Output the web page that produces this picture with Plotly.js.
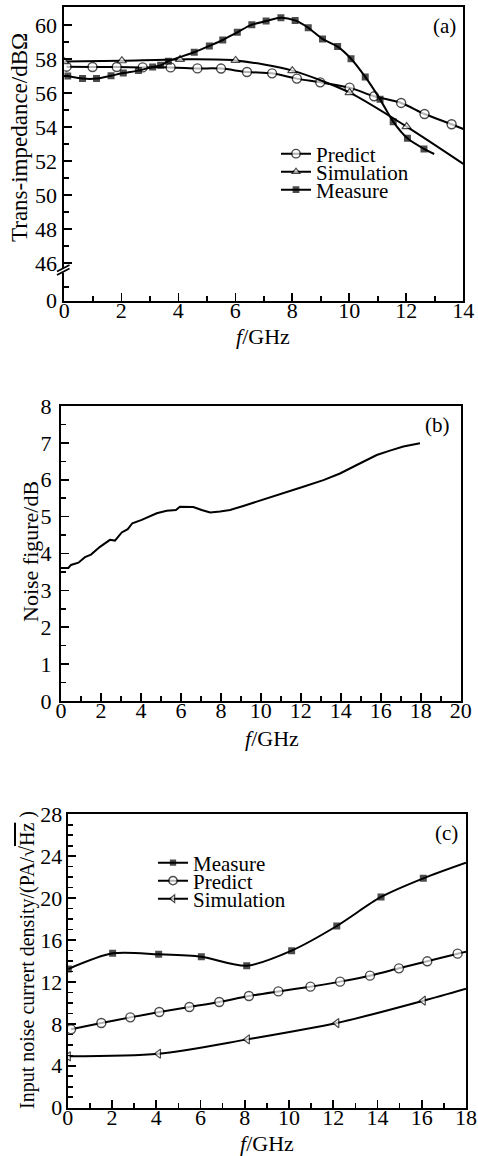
<!DOCTYPE html>
<html><head><meta charset="utf-8">
<script src="https://cdn.plot.ly/plotly-3.0.1.min.js"></script>
<style>html,body{margin:0;padding:0;background:#fff;}#chart{width:478px;height:1156px;}</style>
</head><body><div id="chart"></div>
<script>
// ---------- data: panel (a) trans-impedance ----------
const aPredictF = [0.08, 0.99, 1.84, 2.75, 3.73, 4.67, 5.5, 6.41, 7.29, 8.16, 8.98, 10.01, 10.87, 11.82, 12.64, 13.59, 14.0];
const aPredictV = [57.55, 57.53, 57.53, 57.51, 57.51, 57.45, 57.44, 57.24, 57.16, 56.85, 56.63, 56.32, 55.81, 55.42, 54.77, 54.17, 53.89];
const aSimF = [0, 2.02, 4.06, 6.01, 8.0, 10.01, 12.01, 14.0];
const aSimV = [57.85, 57.9, 57.98, 57.92, 57.32, 56.03, 54.03, 51.84];
const aMeasF = [0.12, 0.64, 1.13, 1.64, 2.07, 2.6, 3.1, 3.38, 3.65, 4.56, 5.09, 5.56, 6.07, 6.58, 7.08, 7.6, 8.1, 8.56, 9.06, 9.59, 10.06, 10.56, 11.08, 11.54, 12.04, 12.62, 12.98];
const aMeasV = [57.0, 56.85, 56.85, 57.02, 57.18, 57.32, 57.53, 57.63, 57.87, 58.4, 58.77, 59.12, 59.57, 60.02, 60.23, 60.43, 60.27, 59.84, 59.18, 58.73, 58.02, 56.95, 55.63, 54.32, 53.34, 52.72, 52.42];
const aYTickText = ['0', '46', '48', '50', '52', '54', '56', '58', '60'];
const aYTickVals = [46, 48, 50, 52, 54, 56, 58, 60];

// ---------- data: panel (b) noise figure ----------
const bF = [0, 0.37, 0.5, 0.87, 1.2, 1.5, 1.95, 2.29, 2.45, 2.7, 3.04, 3.34, 3.57, 4.04, 4.79, 5.29, 5.75, 5.95, 6.62, 7.04, 7.46, 7.96, 8.46, 9.12, 10.12, 11.12, 12.12, 13.13, 13.96, 14.8, 15.3, 15.8, 16.46, 17.13, 17.96];
const bV = [3.61, 3.61, 3.69, 3.75, 3.9, 3.97, 4.18, 4.31, 4.37, 4.35, 4.57, 4.66, 4.82, 4.91, 5.09, 5.16, 5.18, 5.27, 5.26, 5.18, 5.11, 5.14, 5.18, 5.29, 5.47, 5.63, 5.81, 5.99, 6.17, 6.4, 6.54, 6.67, 6.79, 6.9, 6.99];

// ---------- data: panel (c) input noise current density ----------
const cMeasF = [0.03, 2.03, 4.11, 6.04, 8.09, 10.12, 12.16, 14.16, 16.07, 18.0];
const cMeasV = [13.24, 14.73, 14.64, 14.41, 13.55, 14.99, 17.34, 20.11, 21.89, 23.38];
const cPredF = [0.15, 1.52, 2.83, 4.14, 5.5, 6.85, 8.19, 9.52, 10.97, 12.31, 13.66, 14.97, 16.25, 17.62, 18.0];
const cPredV = [7.48, 8.08, 8.62, 9.13, 9.61, 10.09, 10.66, 11.1, 11.55, 12.03, 12.6, 13.3, 13.97, 14.7, 14.89];
const cSimF = [0.03, 4.1, 8.12, 12.16, 16.07, 18.0];
const cSimV = [4.9, 5.15, 6.52, 8.08, 10.21, 11.36];

// ---------- layout helpers ----------
const W = 478, H = 1156;
const FONT = 'Liberation Serif, Times New Roman, serif';
const px = v => v / W;
const py = v => 1 - v / H;
const BREAK0 = 43.8; // axis position representing 0 on the broken axis

// last point of each series carries the line only
const sizes = (arr, s) => arr.map((_, i) => (i === arr.length - 1 ? 0 : s));

const lineStyle = {color: '#000', width: 2, shape: 'spline', smoothing: 0.8};
function sq(n) { return {color: '#000', size: sizes(n, 7), symbol: 'square', line: {width: 0}}; }
function circ(n) { return {color: '#fff', size: sizes(n, 9), symbol: 'circle', line: {color: '#000', width: 1.4}}; }
function tri(n, sym) { return {color: '#fff', size: sizes(n, 8), symbol: sym, line: {color: '#000', width: 1.2}}; }

const traces = [
  {x: aPredictF, y: aPredictV, xaxis: 'x', yaxis: 'y', mode: 'lines+markers', name: 'Predict', line: lineStyle, marker: circ(aPredictF), legend: 'legend'},
  {x: aSimF, y: aSimV, xaxis: 'x', yaxis: 'y', mode: 'lines+markers', name: 'Simulation', line: lineStyle, marker: tri(aSimF, 'triangle-up'), legend: 'legend2'},
  {x: aMeasF, y: aMeasV, xaxis: 'x', yaxis: 'y', mode: 'lines+markers', name: 'Measure', line: lineStyle, marker: sq(aMeasF), legend: 'legend3'},
  {x: bF, y: bV, xaxis: 'x2', yaxis: 'y2', mode: 'lines', name: 'NF', line: {color: '#000', width: 2}, showlegend: false},
  {x: cMeasF, y: cMeasV, xaxis: 'x3', yaxis: 'y3', mode: 'lines+markers', name: 'Measure', line: lineStyle, marker: sq(cMeasF), legend: 'legend4'},
  {x: cPredF, y: cPredV, xaxis: 'x3', yaxis: 'y3', mode: 'lines+markers', name: 'Predict', line: lineStyle, marker: circ(cPredF), legend: 'legend5'},
  {x: cSimF, y: cSimV, xaxis: 'x3', yaxis: 'y3', mode: 'lines+markers', name: 'Simulation', line: lineStyle, marker: tri(cSimF, 'triangle-left'), legend: 'legend6'}
];

const tickFont = {family: FONT, size: 22, color: '#000'};
function axis(extra) {
  return Object.assign({
    showline: true, linecolor: '#000', linewidth: 2, mirror: true,
    ticks: 'inside', ticklen: 8, tickwidth: 1.6, tickcolor: '#000',
    showgrid: false, zeroline: false, tickfont: tickFont, fixedrange: true,
    ticklabelstandoff: 1
  }, extra);
}
function minor(extra) {
  return Object.assign({ticks: 'inside', ticklen: 5, tickwidth: 1.6, tickcolor: '#000', showgrid: false}, extra);
}
const XSTAND = -11;

function legendAt(x, y) {
  return {x: px(x), y: py(y), xanchor: 'left', yanchor: 'middle', bgcolor: 'rgba(0,0,0,0)',
    borderwidth: 0, font: {family: FONT, size: 21, color: '#000'}, itemwidth: 30, tracegroupgap: 0};
}

const annFont = {family: FONT, size: 22, color: '#000'};
function ann(text, x, y, extra) {
  return Object.assign({text: text, xref: 'paper', yref: 'paper', x: px(x), y: py(y),
    xanchor: 'center', yanchor: 'middle', showarrow: false, font: annFont}, extra || {});
}

const layout = {
  width: W, height: H, margin: {l: 0, r: 0, t: 0, b: 0},
  paper_bgcolor: '#fff', plot_bgcolor: '#fff', showlegend: true,
  font: {family: FONT, color: '#000'},
  xaxis: axis({domain: [px(64.3), px(463.3)], range: [0, 14], dtick: 2, tick0: 0, anchor: 'y',
    ticklabelstandoff: XSTAND, minor: minor({dtick: 1})}),
  yaxis: axis({domain: [py(300.7), py(7.3)], range: [BREAK0, 61.04], anchor: 'x',
    tickmode: 'array', tickvals: [BREAK0].concat(aYTickVals), ticktext: aYTickText,
    minor: minor({tickmode: 'array', tickvals: [44.62, 47, 49, 51, 53, 55, 57, 59]})}),
  xaxis2: axis({domain: [px(61), px(460.7)], range: [0, 20], dtick: 2, tick0: 0, anchor: 'y2',
    ticklabelstandoff: XSTAND, minor: minor({dtick: 1})}),
  yaxis2: axis({domain: [py(701), py(406)], range: [0, 8], dtick: 1, tick0: 0, anchor: 'x2',
    ticklabelstandoff: 3, minor: minor({dtick: 0.5})}),
  xaxis3: axis({domain: [px(67.7), px(466)], range: [0, 18], dtick: 2, tick0: 0, anchor: 'y3',
    ticklabelstandoff: XSTAND, minor: minor({dtick: 1})}),
  yaxis3: axis({domain: [py(1107.7), py(814.3)], range: [0, 28], dtick: 4, tick0: 0, anchor: 'x3',
    ticklabelstandoff: -1, minor: minor({dtick: 1})}),
  legend: legendAt(276, 154),
  legend2: legendAt(276, 172),
  legend3: legendAt(276, 190),
  legend4: legendAt(153, 863),
  legend5: legendAt(153, 881),
  legend6: legendAt(153, 899),
  annotations: [
    ann('(a)', 444, 26, {font: {family: FONT, size: 21, color: '#000'}}),
    ann('(b)', 437, 425, {font: {family: FONT, size: 21, color: '#000'}}),
    ann('(c)', 446, 833, {font: {family: FONT, size: 21, color: '#000'}}),
    ann('Trans-impedance/dBΩ', 20, 138, {textangle: -90, font: {family: FONT, size: 23, color: '#000'}}),
    ann('Noise figure/dB', 30, 552, {textangle: -90}),
    ann('Input noise currert density/(PA/√<span style="text-decoration:overline">Hz</span> )', 27, 960,
      {textangle: -90, font: {family: FONT, size: 20, color: '#000'}}),
    ann('<i>f</i>/GHz', 263, 336),
    ann('<i>f</i>/GHz', 272, 738),
    ann('<i>f</i>/GHz', 267, 1143)
  ],
  shapes: [
    {type: 'rect', xref: 'paper', yref: 'y', x0: px(61), x1: px(67), y0: 45.45, y1: 45.72,
      fillcolor: '#fff', line: {width: 0}, layer: 'above'},
    {type: 'line', xref: 'paper', yref: 'y', x0: px(57), x1: px(69.5), y0: 45.31, y1: 45.69,
      line: {color: '#000', width: 1.8}, layer: 'above'},
    {type: 'line', xref: 'paper', yref: 'y', x0: px(57), x1: px(69.5), y0: 45.52, y1: 45.90,
      line: {color: '#000', width: 1.8}, layer: 'above'}
  ]
};

Plotly.newPlot('chart', traces, layout, {displayModeBar: false, staticPlot: true});
</script>
</body></html>
